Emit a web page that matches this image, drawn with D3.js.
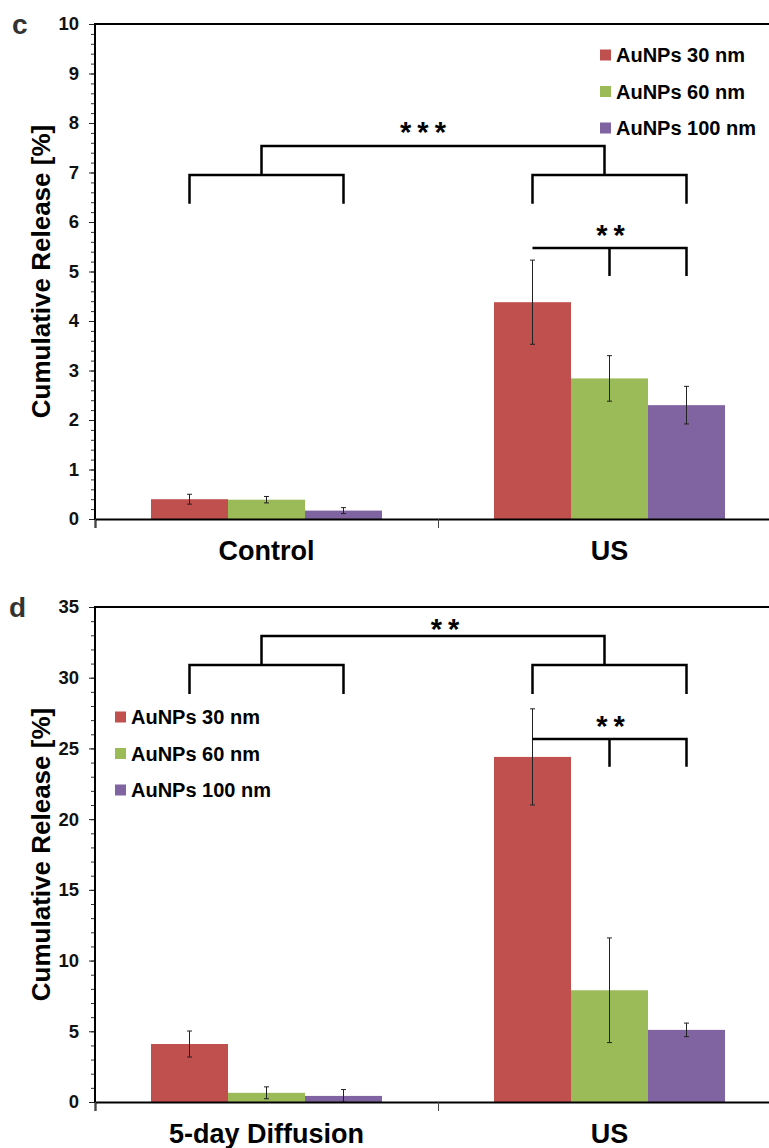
<!DOCTYPE html>
<html>
<head>
<meta charset="utf-8">
<script src="https://cdn.jsdelivr.net/npm/d3@7"></script>
<style>
  body { margin: 0; background: #fff; }
  svg text { font-family: "Liberation Sans", Arial, sans-serif; font-weight: bold; }
</style>
</head>
<body>
<div id="chart"></div>
<script>
// series shared by both panels
const series = ['AuNPs 30 nm', 'AuNPs 60 nm', 'AuNPs 100 nm'];
const colors = ['#C0504D', '#9BBB59', '#8064A2'];

// panel c
const catsC = ['Control', 'US'];
const valsC = [[0.40, 0.39, 0.17], [4.38, 2.84, 2.30]];
const errC = [[0.10, 0.065, 0.06], [0.85, 0.46, 0.38]];
const ticksC = [0, 1, 2, 3, 4, 5, 6, 7, 8, 9, 10];
// significance brackets, in value units
const groupSigC = { label: '***', legs: 6.37, low: 6.95, high: 7.535, text: 7.9 };
const pairSigC = { label: '**', legs: 4.91, line: 5.475, text: 5.82 };

// panel d
const catsD = ['5-day Diffusion', 'US'];
const valsD = [[4.1, 0.65, 0.43], [24.4, 7.9, 5.1]];
const errD = [[0.92, 0.42, 0.45], [3.4, 3.7, 0.48]];
const ticksD = [0, 5, 10, 15, 20, 25, 30, 35];
const groupSigD = { label: '**', legs: 28.85, low: 30.9, high: 32.95, text: 33.75 };
const pairSigD = { label: '**', legs: 23.7, line: 25.67, text: 26.9 };

const W = 769, H = 1148;
const svg = d3.select('#chart').append('svg')
    .attr('width', W)
    .attr('height', H);

function drawPanel (opt) {
    let g = svg.append('g');
    let left = 95, right = 781;
    let top = opt.top, bottom = opt.top + 495;

    let y = d3.scaleLinear().domain([0, opt.max]).range([bottom, top]);
    let x = d3.scaleBand().domain(opt.cats).range([left, right]);
    let xs = d3.scaleBand().domain(series).range([56, x.bandwidth() - 56]);

    // minor ticks
    g.append('g')
        .attr('transform', 'translate(' + left + ',0)')
        .call(d3.axisLeft(y).tickValues(d3.range(0, opt.max + 1e-9, opt.minor)).tickSize(4).tickFormat(''))
        .call(a => a.select('.domain').remove())
        .call(a => a.selectAll('line').attr('stroke', '#333'));

    // major ticks and labels
    g.append('g')
        .attr('transform', 'translate(' + left + ',0)')
        .call(d3.axisLeft(y).tickValues(opt.ticks).tickSize(6).tickPadding(10))
        .call(a => a.select('.domain').remove())
        .call(a => a.selectAll('line').attr('stroke', '#222'))
        .call(a => a.selectAll('text').attr('font-size', 18.5).attr('fill', '#111'));

    // bars
    opt.cats.forEach((cat, ci) => {
        let grp = g.append('g').attr('transform', 'translate(' + x(cat) + ',0)');
        grp.selectAll('rect')
            .data(series)
            .join('rect')
            .attr('x', s => xs(s))
            .attr('width', xs.bandwidth())
            .attr('y', (s, i) => y(opt.vals[ci][i]))
            .attr('height', (s, i) => bottom - y(opt.vals[ci][i]))
            .attr('fill', (s, i) => colors[i]);

        // error bars
        series.forEach((s, i) => {
            let cx = xs(s) + xs.bandwidth() / 2;
            let hi = y(opt.vals[ci][i] + opt.errs[ci][i]);
            let lo = y(Math.max(0, opt.vals[ci][i] - opt.errs[ci][i]));
            let e = grp.append('g').attr('stroke', '#222').attr('stroke-width', 1);
            e.append('line').attr('x1', cx).attr('x2', cx).attr('y1', hi).attr('y2', lo);
            e.append('line').attr('x1', cx - 2.5).attr('x2', cx + 2.5).attr('y1', hi).attr('y2', hi);
            e.append('line').attr('x1', cx - 2.5).attr('x2', cx + 2.5).attr('y1', lo).attr('y2', lo);
        });
    });

    // y axis line and top border
    g.append('path')
        .attr('d', 'M' + left + ',' + (bottom + 1) + 'V' + top + 'H' + right)
        .attr('fill', 'none')
        .attr('stroke', '#000')
        .attr('stroke-width', 2);

    // x axis: ticks at category edges
    let xEdge = d3.scaleLinear().domain([0, opt.cats.length]).range([left, right]);
    g.append('g')
        .attr('transform', 'translate(0,' + bottom + ')')
        .call(d3.axisBottom(xEdge).tickValues(d3.range(opt.cats.length + 1)).tickSize(9).tickFormat(''))
        .call(a => a.select('.domain').attr('stroke-width', 2).attr('stroke', '#000'))
        .call(a => a.selectAll('line').attr('stroke', '#444'));

    // category labels
    g.append('g')
        .attr('transform', 'translate(0,' + bottom + ')')
        .call(d3.axisBottom(x).tickSize(0).tickPadding(22))
        .call(a => a.select('.domain').remove())
        .call(a => a.selectAll('text').attr('font-size', 27).attr('fill', '#000'));

    // y axis title
    g.append('text')
        .attr('transform', 'translate(41,' + ((top + bottom) / 2) + ') rotate(-90)')
        .attr('text-anchor', 'middle')
        .attr('dy', '0.36em')
        .attr('font-size', 26)
        .text('Cumulative Release [%]');

    // panel letter
    g.append('text')
        .attr('x', opt.letterX)
        .attr('y', top + 10)
        .attr('font-size', 28)
        .attr('fill', '#333')
        .text(opt.letter);

    // significance brackets
    let center = (ci, i) => x(opt.cats[ci]) + xs(series[i]) + xs.bandwidth() / 2;
    let br = g.append('g').attr('fill', 'none').attr('stroke', '#000').attr('stroke-width', 2.5);
    let gs = opt.groupSig;
    opt.cats.forEach((cat, ci) => {
        br.append('path')
            .attr('d', 'M' + center(ci, 0) + ',' + y(gs.legs) + 'V' + y(gs.low) + 'H' + center(ci, 2) + 'V' + y(gs.legs));
    });
    let mid0 = center(0, 1) - 5, mid1 = center(1, 1) - 5;
    br.append('path')
        .attr('d', 'M' + mid0 + ',' + y(gs.low) + 'V' + y(gs.high) + 'H' + mid1 + 'V' + y(gs.low));
    let ps = opt.pairSig;
    br.append('path')
        .attr('d', 'M' + center(1, 0) + ',' + y(ps.line) + 'H' + center(1, 2) + 'V' + y(ps.legs));
    br.append('path')
        .attr('d', 'M' + center(1, 1) + ',' + y(ps.line) + 'V' + y(ps.legs));

    // asterisks, letter spacing leaves a trailing gap so shift by half of it
    let star = (cx, v, label) => g.append('text')
        .attr('x', cx + 3)
        .attr('y', y(v))
        .attr('dy', '0.5em')
        .attr('text-anchor', 'middle')
        .attr('font-family', '"DejaVu Sans", sans-serif')
        .attr('font-size', 29)
        .attr('font-weight', 'bold')
        .attr('letter-spacing', 6)
        .text(label);
    star((mid0 + mid1) / 2 + opt.starDx, gs.text, gs.label);
    star(center(1, 1) + 1, ps.text, ps.label);

    // legend
    let lg = g.append('g').attr('transform', 'translate(' + opt.legX + ',' + opt.legY + ')');
    series.forEach((s, i) => {
        let row = lg.append('g').attr('transform', 'translate(0,' + (i * 36.5) + ')');
        row.append('rect').attr('x', 0).attr('y', -5.5).attr('width', 11).attr('height', 11).attr('fill', colors[i]);
        row.append('text').attr('x', 16).attr('dy', '0.36em').attr('font-size', 20).text(s);
    });
}

drawPanel({
    top: 24, max: 10, minor: 0.2, ticks: ticksC,
    cats: catsC, vals: valsC, errs: errC,
    groupSig: groupSigC, pairSig: pairSigC, starDx: -10,
    letter: 'c', letterX: 12,
    legX: 600, legY: 55
});

drawPanel({
    top: 607, max: 35, minor: 1, ticks: ticksD,
    cats: catsD, vals: valsD, errs: errD,
    groupSig: groupSigD, pairSig: pairSigD, starDx: 12,
    letter: 'd', letterX: 9,
    legX: 115, legY: 717
});
</script>
</body>
</html>
